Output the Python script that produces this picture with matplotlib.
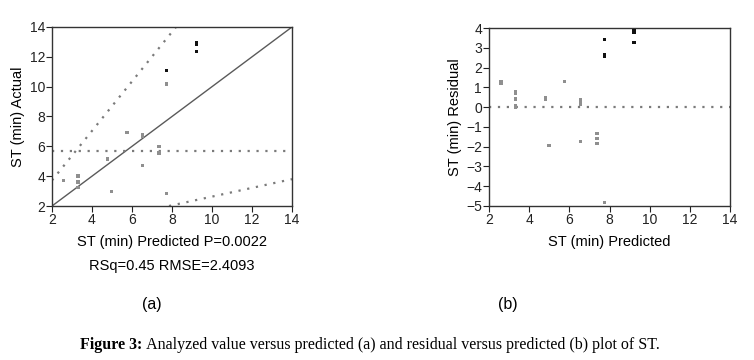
import matplotlib.pyplot as plt
from matplotlib import font_manager

# (a) actual vs predicted
pred_a = [2.58, 3.30, 3.30, 3.30, 4.79, 4.99, 5.75, 6.52, 6.52, 6.52, 7.35, 7.35,
          7.73, 7.73, 7.73, 7.73, 9.23, 9.23, 9.23]
actual = [3.72, 4.01, 3.61, 3.27, 5.15, 2.96, 6.94, 6.76, 6.63, 4.73, 5.96, 5.55,
          11.09, 10.22, 10.13, 2.85, 12.93, 12.84, 12.37]
dark_a = [12, 16, 17, 18]

mean_actual = 5.72
fit_x = [2, 14]
fit_y = [2, 14]
upper_x = [2, 8.2]
upper_y = [3.72, 14]
lower_x = [7.85, 14]
lower_y = [2.0, 3.8]

# (b) residual vs predicted
pred_b = [2.60, 2.60, 3.33, 3.33, 3.33, 3.33, 3.33, 4.82, 4.82, 4.99, 5.75, 6.55,
          6.55, 6.55, 6.55, 7.38, 7.38, 7.38, 7.74, 7.74, 7.74, 7.74, 9.22, 9.22, 9.22]
resid = [1.29, 1.22, 0.79, 0.67, 0.41, 0.06, -0.03, 0.50, 0.40, -1.92, 1.29, 0.38,
         0.26, 0.14, -1.74, -1.33, -1.58, -1.84, 3.44, 2.65, 2.56, -4.82, 3.86, 3.78, 3.27]
dark_b = [18, 19, 20, 22, 23, 24]

names = {f.name for f in font_manager.fontManager.ttflist}
sans = 'Liberation Sans Narrow' if 'Liberation Sans Narrow' in names else 'Liberation Sans'
plt.rcParams['font.family'] = [sans, 'DejaVu Sans']

gray = '#8f8f8f'
dark = '#111111'
line_c = '#5a5a5a'
dot_c = '#7a7a7a'
dotted = (0, (1, 3))

fig = plt.figure(figsize=(7.54, 3.6), dpi=100)
ax1 = fig.add_axes([52 / 754, 154 / 360, 240 / 754, 179 / 360])
ax2 = fig.add_axes([489 / 754, 154 / 360, 241 / 754, 178 / 360])


def style(ax):
    for s in ax.spines.values():
        s.set_color('#333333')
        s.set_linewidth(1.0)
    ax.tick_params(direction='out', length=4, width=0.8, colors='#222222',
                   labelsize=10, pad=1)


# panel a
ax1.plot(fit_x, fit_y, color=line_c, lw=1.0)
ax1.axhline(mean_actual, color=dot_c, lw=1.6, ls=dotted)
ax1.plot(upper_x, upper_y, color=dot_c, lw=1.6, ls=dotted)
ax1.plot(lower_x, lower_y, color=dot_c, lw=1.6, ls=dotted)
ca = [dark if i in dark_a else gray for i in range(len(pred_a))]
ax1.scatter(pred_a, actual, c=ca, marker='s', s=5, lw=0, zorder=3)
ax1.set_xlim(2, 14)
ax1.set_ylim(2, 14)
ax1.set_xticks(range(2, 15, 2))
ax1.set_yticks(range(2, 15, 2))
ax1.set_ylabel('ST (min) Actual', fontsize=10.5, labelpad=3)
ax1.set_xlabel('ST (min) Predicted P=0.0022\nRSq=0.45 RMSE=2.4093', fontsize=10.5,
               labelpad=6, linespacing=1.9)
style(ax1)

# panel b
ax2.axhline(0, color=dot_c, lw=1.6, ls=dotted)
cb = [dark if i in dark_b else gray for i in range(len(pred_b))]
ax2.scatter(pred_b, resid, c=cb, marker='s', s=5, lw=0, zorder=3)
ax2.set_xlim(2, 14)
ax2.set_ylim(-5, 4)
ax2.set_xticks(range(2, 15, 2))
ax2.set_yticks(range(-5, 5))
ax2.set_ylabel('ST (min) Residual', fontsize=10.5, labelpad=3)
ax2.set_xlabel('ST (min) Predicted', fontsize=10.5, labelpad=6)
style(ax2)

fig.text(152 / 754, 1 - 305 / 360, '(a)', ha='center', va='center', fontsize=11.5)
fig.text(508 / 754, 1 - 305 / 360, '(b)', ha='center', va='center', fontsize=11.5)

# caption: bold label followed by plain text
r = fig.canvas.get_renderer()
t1 = fig.text(0, 1 - 345 / 360, 'Figure 3:', ha='left', va='center', fontsize=11.5,
              family='Liberation Serif', weight='bold')
t2 = fig.text(0, 1 - 345 / 360, ' Analyzed value versus predicted (a) and residual versus predicted (b) plot of ST.',
              ha='left', va='center', fontsize=11.5, family='Liberation Serif')
w1 = t1.get_window_extent(r).width
w2 = t2.get_window_extent(r).width
x0 = 370 - (w1 + w2) / 2
t1.set_x(x0 / 754)
t2.set_x((x0 + w1) / 754)

fig.savefig('out.png', dpi=100)
